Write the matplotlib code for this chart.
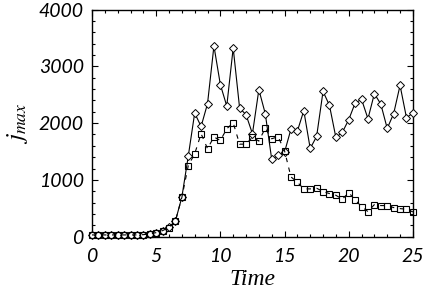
import numpy as np
from matplotlib import pyplot as plt
from matplotlib.ticker import MultipleLocator

plt.rcParams['mathtext.fontset'] = 'stix'

# time samples every 0.5 from 0 to 25
time = np.arange(0, 25.01, 0.5)

# diamonds, solid line
jmax_a = [30, 30, 30, 30, 30, 30, 30, 30, 35, 47, 71, 106, 164, 277, 694,
          1418, 2177, 1941, 2342, 3359, 2678, 2300, 3324, 2265, 2148, 1813, 2589,
          2166, 1364, 1430, 1488, 1894, 1859, 2219, 1553, 1765, 2559, 2312, 1747,
          1836, 2060, 2353, 2418, 2077, 2519, 2335, 1906, 2166, 2665, 2095, 2176]
# squares, dashed line
jmax_b = [30, 30, 30, 30, 30, 30, 30, 30, 35, 47, 71, 106, 160, 277, 690,
          1250, 1459, 1813, 1550, 1756, 1694, 1900, 2006, 1629, 1629, 1753, 1683,
          1912, 1724, 1760, 1512, 1053, 958, 841, 841, 853, 794, 759, 729,
          659, 776, 647, 530, 441, 565, 547, 547, 512, 494, 482, 436]

fig = plt.figure(figsize=(4.36, 2.90), dpi=100)
ax = fig.add_axes([0.211, 0.184, 0.736, 0.783])

ax.plot(time, jmax_a, '-', color='k', lw=0.8, marker='D', ms=3.8,
        mfc='white', mec='k', mew=0.7, clip_on=False, zorder=3)
ax.plot(time, jmax_b, color='k', lw=0.8, ls=(0, (4, 5)), marker='s', ms=4.4,
        fillstyle='none', mec='k', mew=0.8, clip_on=False, zorder=4)

ax.set_xlim(0, 25)
ax.set_ylim(0, 4000)
ax.xaxis.set_major_locator(MultipleLocator(5))
ax.xaxis.set_minor_locator(MultipleLocator(1))
ax.yaxis.set_major_locator(MultipleLocator(1000))
ax.yaxis.set_minor_locator(MultipleLocator(200))
ax.tick_params(which='both', direction='in', top=True, right=True, width=0.8)
ax.tick_params(which='major', length=4.5)
ax.tick_params(which='minor', length=2.5)
ax.tick_params(axis='x', pad=8)
ax.tick_params(axis='y', pad=6)
for lab in ax.get_xticklabels() + ax.get_yticklabels():
    lab.set_fontfamily('Lato')
    lab.set_fontstyle('italic')
    lab.set_fontsize(14)
for s in ax.spines.values():
    s.set_linewidth(1.0)

ax.set_xlabel('Time', fontfamily='Liberation Serif', fontstyle='italic',
              fontsize=17, labelpad=3)
ax.set_ylabel(r'$j_{max}$', fontsize=18, labelpad=6)

fig.savefig('out.png', dpi=100)
